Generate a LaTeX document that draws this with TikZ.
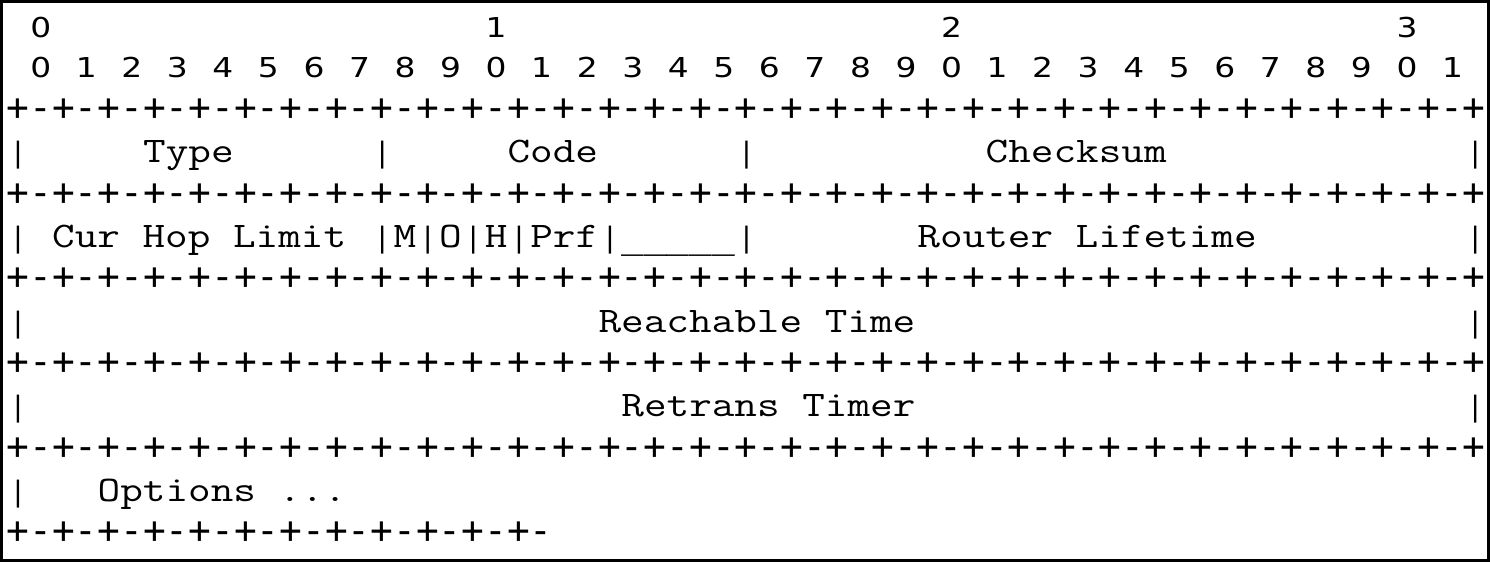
\documentclass[tikz,border=0pt]{standalone}
\usepackage{fontspec}
\newfontfamily\rulefont{DejaVu Sans Mono}
\newfontfamily\bitfont{DejaVu Sans}
\usetikzlibrary{positioning}

\newcommand{\fullrule}{+-+-+-+-+-+-+-+-+-+-+-+-+-+-+-+-+-+-+-+-+-+-+-+-+-+-+-+-+-+-+-+-+}
\newcommand{\shortrule}{+-+-+-+-+-+-+-+-+-+-+-+-}

\tikzset{
	cell/.style={inner sep=0pt, outer sep=0pt, anchor=base west},
	word/.style={cell, xscale=1.22, transform shape, font=\ttfamily\fontsize{18}{20}\selectfont},
	rulerow/.style={cell, font=\rulefont\fontsize{18.9}{20}\selectfont},
	bar/.style={inner sep=0pt, anchor=base, font=\rulefont\fontsize{14}{16}\selectfont},
	bitnum/.style={inner sep=0pt, anchor=base, xscale=1.2, transform shape, font=\bitfont\fontsize{13.7}{16}\selectfont},
}

\begin{document}
\begin{tikzpicture}

\pgfmathsetmacro{\cw}{11.385}
\pgfmathsetmacro{\lh}{21.175}
\pgfmathsetmacro{\xo}{3.3}
\pgfmathsetmacro{\yo}{17.8}

\useasboundingbox (0,0) rectangle (745pt,-281pt);
\draw[line width=1.5pt] (0.75pt,-0.75pt) rectangle (744.25pt,-280.25pt);

\begin{scope}[x=\cw pt, y=-\lh pt, shift={(\xo pt,-\yo pt)}]

% BIT NUMBERS
\foreach \t in {0,1,2,3}
	\node(tens\t)[bitnum] at (1.5+20*\t,0.05) {\t};
\foreach \b [count=\i from 0] in {0,1,2,3,4,5,6,7,8,9,0,1,2,3,4,5,6,7,8,9,0,1,2,3,4,5,6,7,8,9,0,1}
	\node(bit\i)[bitnum] at (1.5+2*\i,1) {\b};

% RULES
\foreach \r in {2,4,6,8,10}
	\node(rule\r)[rulerow] at (0,\r) {\fullrule};
\node(rule12)[rulerow] at (0,12) {\shortrule};

% BARS
\foreach \c/\r in {0/3,16/3,32/3,64/3,
			0/5,16/5,18/5,20/5,22/5,26/5,32/5,64/5,
			0/7,64/7,0/9,64/9,0/11}
	\node(bar\c r\r)[bar] at (\c+0.5,\r) {|};

% FIELDS
\node(type)[word] at (6,3) {Type};
\node(code)[word] at (22,3) {Code};
\node(checksum)[word] at (43,3) {Checksum};

\node(hoplimit)[word] at (2,5) {Cur Hop Limit};
\node(mflag)[word] at (17,5) {M};
\node(oflag)[word] at (19,5) {O};
\node(hflag)[word] at (21,5) {H};
\node(prf)[word] at (23,5) {Prf};
\node(resvd)[rulerow] at (27,5) {\_\_\_\_\_};
\node(lifetime)[word] at (40,5) {Router Lifetime};

\node(reachable)[word] at (26,7) {Reachable Time};
\node(retrans)[word] at (27,9) {Retrans Timer};
\node(options)[word] at (4,11) {Options ...};

\end{scope}

\end{tikzpicture}
\end{document}
